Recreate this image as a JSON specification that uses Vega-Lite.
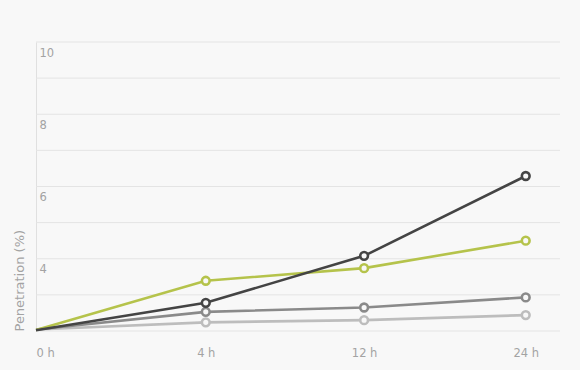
{
  "$schema": "https://vega.github.io/schema/vega-lite/v6.json",
  "width": 524,
  "height": 289,
  "autosize": {"type": "none"},
  "padding": {"left": 36, "top": 42, "right": 20, "bottom": 39},
  "background": "#f8f8f8",
  "config": {
    "view": {"stroke": null},
    "font": "DejaVu Sans",
    "axis": {"labelColor": "#a3a3a3", "titleColor": "#a3a3a3", "labelFont": "DejaVu Sans", "titleFont": "DejaVu Sans", "labelFontWeight": "normal", "titleFontWeight": "normal"}
  },
  "data": {
    "values": [
      {"t": 0, "label": "0 h", "series": "light", "v": 2.04},
      {"t": 1.04, "label": "4 h", "series": "light", "v": 2.24},
      {"t": 2.01, "label": "12 h", "series": "light", "v": 2.30},
      {"t": 3, "label": "24 h", "series": "light", "v": 2.44},
      {"t": 0, "label": "0 h", "series": "mid", "v": 2.04},
      {"t": 1.04, "label": "4 h", "series": "mid", "v": 2.53},
      {"t": 2.01, "label": "12 h", "series": "mid", "v": 2.65},
      {"t": 3, "label": "24 h", "series": "mid", "v": 2.93},
      {"t": 0, "label": "0 h", "series": "green", "v": 2.03},
      {"t": 1.04, "label": "4 h", "series": "green", "v": 3.39},
      {"t": 2.01, "label": "12 h", "series": "green", "v": 3.74},
      {"t": 3, "label": "24 h", "series": "green", "v": 4.50},
      {"t": 0, "label": "0 h", "series": "dark", "v": 2.02},
      {"t": 1.04, "label": "4 h", "series": "dark", "v": 2.78},
      {"t": 2.01, "label": "12 h", "series": "dark", "v": 4.08},
      {"t": 3, "label": "24 h", "series": "dark", "v": 6.29}
    ]
  },
  "encoding": {
    "x": {
      "field": "t", "type": "quantitative",
      "scale": {"domain": [0, 3.21], "nice": false, "zero": false},
      "axis": {
        "title": null, "values": [0, 1.04, 2.01, 3],
        "labelExpr": "datum.value < 0.5 ? '0 h' : datum.value < 1.5 ? '4 h' : datum.value < 2.5 ? '12 h' : '24 h'",
        "grid": false, "domain": false, "ticks": false, "tickSize": 0,
        "labelPadding": 16, "labelFontSize": 11.5, "labelFlush": true
      }
    },
    "y": {
      "field": "v", "type": "quantitative",
      "scale": {"domain": [2, 10], "nice": false, "zero": false},
      "axis": {
        "title": "Penetration (%)", "titleFontSize": 13,
        "titleX": -17, "titleY": 289, "titleAlign": "left", "titleBaseline": "middle", "titleAngle": -90,
        "values": [4, 6, 8, 10],
        "grid": false,
        "domain": true, "domainColor": "#e0e0e0",
        "ticks": false, "tickSize": 0,
        "labelAlign": "left", "labelBaseline": "top", "labelPadding": -3, "labelOffset": 5,
        "labelFontSize": 11.5
      }
    },
    "color": {
      "field": "series", "type": "nominal",
      "scale": {"domain": ["light", "mid", "green", "dark"], "range": ["#bdbdbd", "#8a8a8a", "#b5c34b", "#444444"]},
      "legend": null
    },
    "order": {"field": "t"}
  },
  "layer": [
    {
      "mark": {"type": "rule", "color": "#e4e4e4", "strokeWidth": 1},
      "data": {"values": [{"g": 2}, {"g": 3}, {"g": 4}, {"g": 5}, {"g": 6}, {"g": 7}, {"g": 8}, {"g": 9}, {"g": 10}]},
      "encoding": {
        "y": {"field": "g", "type": "quantitative"},
        "x": null, "color": null, "order": null
      }
    },
    {
      "mark": {"type": "line", "strokeWidth": 2.6},
      "encoding": {"detail": {"field": "series"}}
    },
    {
      "transform": [{"filter": "datum.t > 0"}],
      "mark": {"type": "point", "filled": false, "fill": "#f8f8f8", "fillOpacity": 1, "opacity": 1, "strokeWidth": 2.6, "size": 60}
    }
  ]
}
